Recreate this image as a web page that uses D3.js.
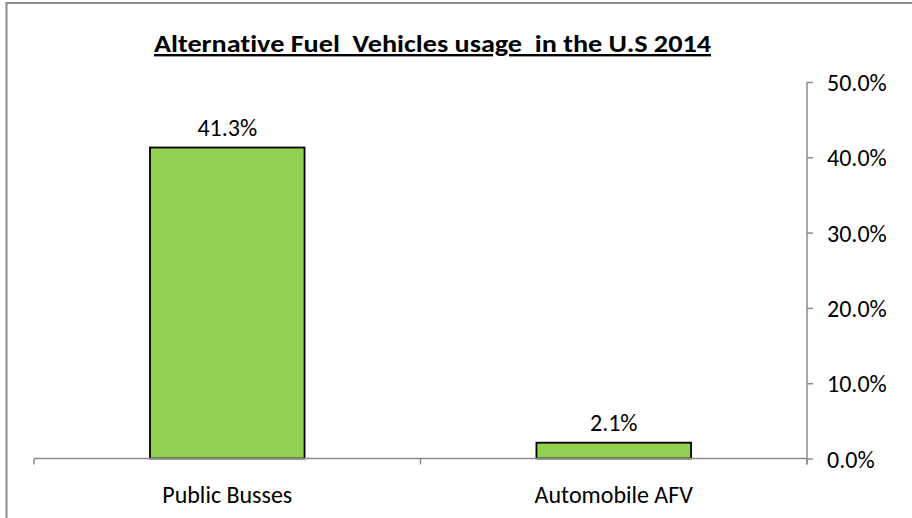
<!DOCTYPE html>
<html>
<head>
<meta charset="utf-8">
<script src="https://cdn.jsdelivr.net/npm/d3@7"></script>
<style>
  body { margin: 0; background: #fff; }
  svg { display: block; }
  text { font-family: Carlito, Lato, "Open Sans", sans-serif; fill: #000; font-variant-ligatures: none; }
</style>
</head>
<body>
<svg id="chart" width="912" height="518"></svg>
<script>
// chart data
var categories = ["Public Busses", "Automobile AFV"];
var shares = [41.3, 2.1];
var tickValues = [0, 10, 20, 30, 40, 50];
var titleText = "Alternative Fuel  Vehicles usage  in the U.S 2014";

var svg = d3.select("#chart"),
    margin = {top: 82, right: 105, bottom: 59.5, left: 34},
    width = +svg.attr("width") - margin.left - margin.right,
    height = +svg.attr("height") - margin.top - margin.bottom;

// outer frame (only left and top edges show)
svg.append("path")
    .attr("d", "M6.5,518V3H912")
    .attr("fill", "none")
    .attr("stroke", "#8c8c8c")
    .attr("stroke-width", 2);

var g = svg.append("g").attr("transform", "translate(" + margin.left + "," + margin.top + ")");

var x = d3.scaleBand().domain(categories).range([0, width]).paddingInner(0.6).paddingOuter(0.3);
var xEdges = d3.scaleLinear().domain([0, categories.length]).range([0, width]);
var y = d3.scaleLinear().domain([0, 50]).range([height, 0]);

// bars
g.selectAll(".bar")
    .data(categories)
    .enter().append("rect")
    .attr("class", "bar")
    .attr("x", function (d) { return x(d); })
    .attr("width", x.bandwidth())
    .attr("y", function (d, i) { return y(shares[i]); })
    .attr("height", function (d, i) { return y(0) - y(shares[i]); })
    .attr("fill", "#92d050")
    .attr("stroke", "#000")
    .attr("stroke-width", 1.8);

// value labels
g.selectAll(".val")
    .data(categories)
    .enter().append("text")
    .attr("class", "val")
    .attr("x", function (d) { return x(d) + x.bandwidth() / 2; })
    .attr("y", function (d, i) { return y(shares[i]) - 12; })
    .attr("text-anchor", "middle")
    .style("font-size", "24px")
    .text(function (d, i) { return shares[i].toFixed(1) + "%"; });

// x axis line with boundary ticks
var xAxis = g.append("g").attr("transform", "translate(0," + height + ")");
xAxis.append("line")
    .attr("x1", 0).attr("x2", width)
    .attr("stroke", "#8c8c8c").attr("stroke-width", 1.5);
xAxis.selectAll(".xt")
    .data(d3.range(categories.length + 1))
    .enter().append("line")
    .attr("x1", function (d) { return xEdges(d); })
    .attr("x2", function (d) { return xEdges(d); })
    .attr("y1", 0).attr("y2", 6)
    .attr("stroke", "#8c8c8c").attr("stroke-width", 1.5);
xAxis.selectAll(".xl")
    .data(categories)
    .enter().append("text")
    .attr("x", function (d) { return x(d) + x.bandwidth() / 2; })
    .attr("y", 44)
    .attr("text-anchor", "middle")
    .style("font-size", "24px")
    .text(function (d) { return d; });

// right y axis
var yAxis = g.append("g")
    .attr("transform", "translate(" + width + ",0)")
    .call(d3.axisRight(y).tickValues(tickValues).tickSize(6).tickPadding(14)
        .tickFormat(function (d) { return d.toFixed(1) + "%"; }));
yAxis.select(".domain").attr("stroke", "#8c8c8c").attr("stroke-width", 1.5)
    .attr("d", "M0," + y(50) + "V" + (y(0) + 6));
yAxis.selectAll(".tick line").attr("stroke", "#8c8c8c").attr("stroke-width", 1.5);
yAxis.selectAll(".tick text")
    .attr("dy", "0.36em")
    .style("font-size", "24px")
    .style("font-family", 'Carlito, Lato, "Open Sans", sans-serif')
    .attr("fill", "#000");

// title (double spaces kept as in the original)
svg.append("text")
    .attr("x", 432.5)
    .attr("y", 52)
    .attr("text-anchor", "middle")
    .attr("textLength", 557)
    .attr("lengthAdjust", "spacingAndGlyphs")
    .style("white-space", "pre")
    .style("font-size", "24px")
    .style("font-weight", "bold")
    .style("text-decoration", "underline")
    .text(titleText);
</script>
</body>
</html>
